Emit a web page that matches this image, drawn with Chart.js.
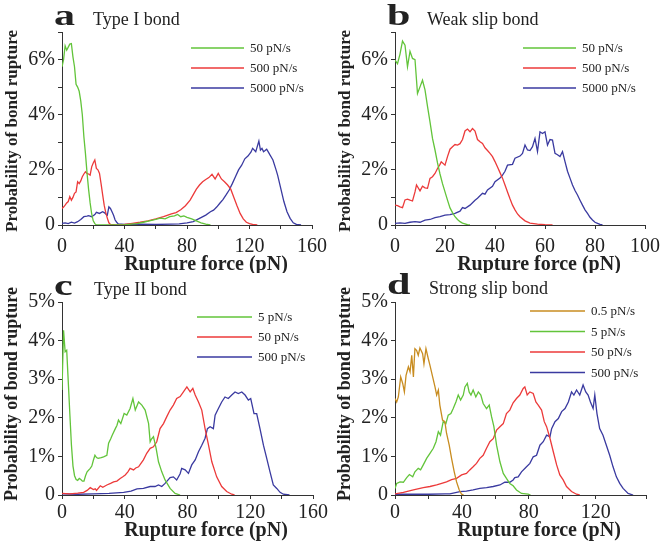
<!DOCTYPE html>
<html>
<head>
<meta charset="utf-8">
<script src="https://cdn.jsdelivr.net/npm/chart.js@4.4.0/dist/chart.umd.min.js"></script>
<style>
  body { margin: 0; background: #fff; }
  #wrap { position: relative; width: 666px; height: 547px; }
  #wrap canvas { position: absolute; }
</style>
</head>
<body>
<div id="wrap">
  <canvas id="pa" width="333" height="273" style="left:0;top:0"></canvas>
  <canvas id="pb" width="333" height="273" style="left:333px;top:0"></canvas>
  <canvas id="pc" width="333" height="274" style="left:0;top:273px"></canvas>
  <canvas id="pd" width="333" height="274" style="left:333px;top:273px"></canvas>
</div>
<script>
// rupture force (pN), probability (%) pairs

// a  Type I bond
const a50 = [[0,5.74],[1,6.0],[2,6.5],[3,6.34],[4,6.45],[5,6.56],[6,6.58],[7,6.1],[8,5.74],[9,5.1],[10,5.0],[11,4.85],[12,4.5],[13,4.0],[14,3.2],[15,2.6],[16,1.9],[17,1.3],[18,0.8],[19,0.4],[20,0.15],[21,0.05],[22,0],[40,0],[44,0.03],[48,0.05],[52,0.1],[56,0.15],[60,0.2],[63,0.25],[66,0.22],[69,0.3],[72,0.33],[74,0.38],[76,0.3],[78,0.33],[80,0.28],[83,0.22],[86,0.15],[89,0.08],[92,0.03],[95,0]];
const a500 = [[0,0.6],[1,0.65],[2,0.72],[3,0.8],[4,0.85],[5,1.03],[6,0.9],[7,1.0],[8,1.15],[9,1.2],[10,1.57],[11,1.5],[12,1.6],[13,1.75],[14,1.85],[15,1.93],[16,1.87],[17,1.85],[18,1.81],[19,2.11],[20,2.25],[21,2.36],[22,2.05],[23,2.0],[24,1.87],[25,1.5],[26,1.1],[27,0.72],[28,0.45],[29,0.25],[30,0.08],[31,0.02],[35,0],[40,0.02],[45,0.06],[50,0.1],[55,0.15],[60,0.22],[65,0.3],[70,0.4],[73,0.45],[76,0.55],[79,0.7],[82,0.9],[84,1.1],[86,1.3],[88,1.45],[90,1.57],[92,1.65],[94,1.72],[96,1.84],[98,1.67],[100,1.87],[102,1.67],[104,1.57],[106,1.45],[108,1.3],[110,1.0],[112,0.7],[114,0.42],[116,0.22],[118,0.1],[120,0.05],[122,0.02],[125,0]];
const a5000 = [[0,0.06],[2,0.08],[4,0.05],[6,0.1],[8,0.07],[10,0.12],[12,0.2],[14,0.3],[16,0.32],[17,0.34],[19,0.3],[21,0.38],[22,0.46],[24,0.42],[26,0.48],[27,0.45],[28,0.4],[29,0.36],[30,0.66],[31,0.6],[32,0.48],[33,0.35],[34,0.18],[35,0.1],[36,0.04],[40,0.02],[50,0.03],[60,0.02],[70,0.03],[75,0.04],[80,0.08],[84,0.12],[88,0.24],[92,0.36],[95,0.48],[97,0.54],[99,0.65],[101,0.79],[103,0.92],[105,1.09],[107,1.27],[109,1.5],[111,1.75],[113,2.0],[115,2.17],[117,2.4],[119,2.5],[121,2.65],[122,2.78],[124,2.66],[125,2.85],[126,3.04],[127,2.72],[128,2.78],[129,2.66],[130,2.7],[131,2.75],[132,2.65],[133,2.55],[135,2.36],[137,2.0],[138,1.81],[140,1.33],[142,0.85],[144,0.48],[146,0.24],[148,0.08],[150,0.02],[153,0]];

// b  Weak slip bond
const b50 = [[0,5.98],[1,5.85],[2,6.2],[3,6.67],[4,6.52],[5,5.74],[6,6.3],[7,6.04],[8,6.0],[9,4.77],[10,5.01],[11,5.25],[12,4.9],[13,4.3],[14,3.74],[15,3.14],[16,2.72],[17,2.25],[18,1.85],[19,1.5],[20,1.2],[21,0.9],[22,0.62],[23,0.45],[24,0.3],[25,0.2],[26,0.12],[27,0.07],[28,0.04],[29,0.01],[30,0]];
const b500 = [[0,0.72],[1,0.7],[2,0.66],[3,0.63],[4,0.91],[5,0.94],[6,0.9],[7,0.87],[8,1.2],[8.6,1.45],[10,1.24],[11,1.41],[12,1.35],[13,1.33],[14,1.69],[15,1.75],[16,1.87],[17,2.05],[18,2.2],[18.5,2.29],[20,2.17],[21,2.48],[22,2.75],[23,2.84],[24,2.92],[25,2.9],[26,2.95],[27,3.1],[28,3.41],[29,3.48],[30,3.38],[31,3.5],[32,3.41],[33,3.1],[34,3.02],[35,2.96],[36,2.8],[37,2.7],[38,2.6],[39,2.48],[40,2.3],[41,2.1],[42,1.9],[43,1.7],[44,1.45],[45,1.2],[46,0.95],[47,0.72],[48,0.55],[49,0.4],[50,0.3],[52,0.15],[54,0.07],[57,0.03],[60,0.01],[63,0]];
const b5000 = [[0,0.06],[2,0.08],[4,0.06],[6,0.1],[8,0.12],[10,0.1],[12,0.18],[14,0.2],[16,0.27],[18,0.3],[20,0.36],[22,0.38],[24,0.42],[26,0.5],[27,0.63],[28,0.6],[30,0.72],[32,0.9],[33,0.97],[35,1.15],[36,1.12],[37,1.27],[39,1.4],[40,1.57],[42,1.7],[43,1.81],[44,1.95],[45,2.17],[47,2.2],[48,2.42],[50,2.5],[51,2.6],[52,2.9],[53,2.72],[54,2.7],[55,2.84],[56,3.14],[57,2.66],[58,3.38],[59,3.32],[60,3.38],[61,2.9],[62,3.1],[63,3.08],[64,2.6],[65,2.55],[66,2.48],[67,2.66],[68,2.3],[69,1.95],[70,1.7],[71,1.45],[72,1.25],[73,1.09],[74,0.9],[75,0.72],[76,0.55],[77,0.42],[78,0.28],[79,0.18],[80,0.1],[81,0.06],[82,0.02],[83,0]];

// c  Type II bond
const c5 = [[0,2.72],[1,4.27],[2,3.71],[3,3.75],[4,2.93],[5,2.1],[6,1.3],[7,0.75],[8,0.5],[9,0.4],[10,0.38],[11,0.43],[12,0.4],[13,0.36],[14,0.36],[15,0.5],[16,0.6],[18,0.69],[19,0.75],[20,0.9],[21,1.03],[22,0.97],[23,0.95],[25,0.97],[26.5,0.99],[28.6,1.03],[29.7,1.34],[31,1.45],[32,1.55],[34,1.72],[35,1.8],[36,1.94],[37.5,1.85],[39.6,2.11],[41.3,2.07],[43.4,2.24],[45.2,2.5],[46.7,2.2],[48.8,2.41],[50.9,2.33],[53,2.2],[55.2,1.85],[56.2,1.38],[57,1.45],[58.3,1.51],[60,1.21],[61.5,0.86],[63.6,0.6],[65.7,0.39],[68.9,0.17],[72.1,0.04],[75.3,0]];
const c50 = [[0,0.04],[5,0.03],[10,0.05],[13.8,0.07],[16,0.12],[18,0.19],[20,0.14],[21.2,0.16],[22,0.12],[24.4,0.24],[26,0.2],[28.6,0.26],[31,0.3],[32.9,0.34],[35,0.36],[37.1,0.43],[39,0.48],[40.3,0.52],[42,0.6],[43.4,0.69],[45.6,0.65],[47,0.7],[48.8,0.73],[50,0.8],[51.9,0.91],[54,1.08],[56.2,1.21],[58.3,1.25],[60.4,1.38],[62.5,1.72],[64.7,1.85],[66.8,2.03],[68.9,2.2],[71,2.33],[73.1,2.5],[75.3,2.55],[77.4,2.67],[79.6,2.8],[81.7,2.67],[83.4,2.76],[84.9,2.59],[87,2.41],[89.1,2.2],[91.2,1.72],[93.4,1.29],[95.5,0.86],[98.6,0.47],[101.8,0.22],[105,0.09],[108.2,0.02],[110,0]];
const c500 = [[0,0.03],[10,0.02],[20,0.03],[30,0.04],[39.3,0.07],[44,0.1],[47.8,0.16],[51.9,0.17],[56.2,0.22],[59.3,0.22],[61.5,0.26],[63.6,0.22],[65.7,0.3],[68.9,0.45],[71,0.47],[73.1,0.39],[75.3,0.55],[76.3,0.69],[78.5,0.65],[80.6,0.56],[82.7,0.78],[84.9,0.91],[87,1.12],[89.1,1.29],[91.2,1.47],[92.7,1.72],[94.4,1.77],[96.5,1.72],[97.6,2.07],[99.7,2.24],[101.8,2.41],[103.9,2.54],[106,2.5],[108.2,2.59],[110.3,2.67],[112.4,2.63],[114.6,2.67],[116.7,2.59],[118.8,2.46],[120.3,2.5],[122.4,2.11],[124.1,2.11],[126.2,1.72],[128.4,1.29],[130.5,0.95],[132.6,0.6],[134.7,0.26],[136.9,0.17],[139,0.07],[141.1,0.02],[145,0]];

// d  Strong slip bond
const d05 = [[0,2.5],[1,2.41],[2,2.54],[3.4,3.06],[4.6,2.89],[5.6,2.67],[6.6,3.1],[8,3.32],[9,3.19],[10,3.62],[11,3.06],[11.9,3.79],[12.9,3.75],[13.9,3.62],[14.9,3.81],[16.5,3.66],[17.3,3.4],[18.5,3.79],[19.9,3.53],[20.9,3.36],[22.5,3.06],[23.9,2.8],[24.9,2.59],[25.9,2.72],[26.8,2.33],[28.4,1.94],[29.8,1.9],[30.8,1.6],[32.4,1.29],[33.8,0.95],[35.4,0.6],[36.8,0.34],[38.4,0.13],[39.8,0.02],[41,0]];
const d5 = [[0,0.17],[1,0.3],[3,0.34],[5,0.33],[7,0.45],[8.6,0.53],[10.6,0.47],[11.9,0.6],[13.9,0.69],[15.3,0.65],[16.9,0.78],[18.9,0.95],[20.9,1.08],[22.9,1.21],[24.5,1.38],[25.9,1.64],[27.2,1.55],[28.8,1.9],[30.4,1.85],[31.8,2.07],[33.4,2.11],[34.8,2.24],[36.4,2.41],[37.8,2.59],[39.2,2.46],[40.8,2.59],[41.8,2.8],[43.2,2.89],[44.3,2.67],[45.4,2.59],[46.7,2.72],[48.3,2.54],[49.8,2.67],[51.3,2.59],[52.7,2.37],[54.7,2.24],[56.3,2.33],[57.7,2.03],[59.1,1.77],[60.7,1.29],[62.7,0.86],[64.7,0.56],[66.6,0.43],[68.6,0.3],[70.6,0.24],[72.6,0.13],[75.6,0.04],[79.6,0.02],[81,0]];
const d50 = [[0,0.03],[5,0.07],[11,0.13],[16.9,0.19],[20.9,0.22],[24.9,0.26],[27.9,0.3],[30.8,0.34],[33.8,0.4],[36.8,0.43],[39.8,0.52],[42.7,0.56],[44.7,0.65],[46.7,0.73],[48.7,0.82],[50.7,0.95],[52.7,1.03],[54.7,1.21],[56.7,1.38],[58.7,1.46],[60.7,1.68],[62.7,1.77],[64.7,1.85],[66.6,2.11],[68.6,2.2],[70.6,2.39],[72.6,2.5],[74.6,2.59],[76.6,2.76],[77.6,2.8],[79,2.59],[80.6,2.67],[82.6,2.63],[84.2,2.41],[85.6,2.33],[87.6,2.2],[89.2,1.9],[90.6,1.77],[92.6,1.47],[94.6,1.12],[96.6,0.78],[98.5,0.52],[100.5,0.39],[102.5,0.22],[105.5,0.09],[108.5,0.02],[110.4,0]];
const d500 = [[0,0.02],[10,0.02],[20,0.02],[30,0.03],[32.8,0.03],[38.8,0.09],[42.7,0.1],[46.7,0.13],[50.7,0.17],[54.7,0.19],[58.7,0.22],[62.7,0.26],[65.6,0.33],[68.6,0.33],[70.6,0.39],[71.6,0.45],[73.6,0.47],[75.6,0.6],[78.6,0.73],[80.6,0.82],[82.6,0.99],[84.6,1.03],[86.6,1.29],[88.6,1.38],[90.6,1.55],[92.6,1.51],[93.6,1.72],[95.6,1.9],[97.6,1.98],[99.6,2.16],[101.6,2.24],[103.6,2.41],[105.5,2.67],[106.9,2.59],[108.5,2.72],[110.4,2.59],[112.4,2.85],[114,2.67],[115.4,2.59],[116.8,2.41],[118.4,2.24],[119.4,2.59],[120.7,2.11],[122.3,1.72],[124.3,1.55],[126.3,1.29],[128.3,1.03],[130.3,0.73],[132.3,0.47],[134.3,0.3],[136.3,0.17],[139.3,0.04],[142.3,0]];

const GREEN = 'rgb(98,196,58)';
const RED = 'rgb(236,58,58)';
const BLUE = 'rgb(58,58,160)';
const GOLD = 'rgb(200,140,32)';
const INK = '#222';
const SERIF = '"Liberation Serif", "Times New Roman", serif';

const panels = [
  { id: 'pa', letter: 'a', name: 'Type I bond', xMax: 160, xStep: 20, xLabelEvery: 40, yMax: 7, yLabelEvery: 2,
    top: 32, axisY: 225, titleBase: 25, nameX: 93, xPad: 6, xTitleBase: 270, yTitleMid: 131, yTitleSize: 17,
    series: [['50 pN/s', a50, GREEN], ['500 pN/s', a500, RED], ['5000 pN/s', a5000, BLUE]],
    legend: { x1: 191, x2: 244, y0: 48, dy: 20 } },
  { id: 'pb', letter: 'b', name: 'Weak slip bond', xMax: 100, xStep: 20, xLabelEvery: 20, yMax: 7, yLabelEvery: 2,
    top: 32, axisY: 225, titleBase: 25, nameX: 94, xPad: 6, xTitleBase: 270, yTitleMid: 131, yTitleSize: 17,
    series: [['50 pN/s', b50, GREEN], ['500 pN/s', b500, RED], ['5000 pN/s', b5000, BLUE]],
    legend: { x1: 190, x2: 243, y0: 48, dy: 20 } },
  { id: 'pc', letter: 'c', name: 'Type II bond', xMax: 160, xStep: 20, xLabelEvery: 40, yMax: 5, yLabelEvery: 1,
    top: 29, axisY: 222, titleBase: 22, nameX: 94, xPad: 2, xTitleBase: 263, yTitleMid: 121, yTitleSize: 18,
    series: [['5 pN/s', c5, GREEN], ['50 pN/s', c50, RED], ['500 pN/s', c500, BLUE]],
    legend: { x1: 197, x2: 252, y0: 44, dy: 20 } },
  { id: 'pd', letter: 'd', name: 'Strong slip bond', xMax: 150, xStep: 20, xLabelEvery: 40, yMax: 5, yLabelEvery: 1,
    top: 29, axisY: 222, titleBase: 21, nameX: 96, xPad: 2, xTitleBase: 263, yTitleMid: 121, yTitleSize: 18,
    series: [['0.5 pN/s', d05, GOLD], ['5 pN/s', d5, GREEN], ['50 pN/s', d50, RED], ['500 pN/s', d500, BLUE]],
    legend: { x1: 197, x2: 252, y0: 38, dy: 20.5 } }
];

// draws panel letter, panel name, axis titles and the in-plot legend
const decor = {
  id: 'decor',
  afterDraw(chart, args, o) {
    const ctx = chart.ctx;
    ctx.save();
    ctx.fillStyle = INK;
    ctx.textBaseline = 'alphabetic';
    ctx.textAlign = 'left';

    // panel letter is wide in the original, stretch it a bit
    ctx.save();
    ctx.translate(54, o.titleBase);
    ctx.scale(1.4, 1);
    ctx.font = 'bold 30px ' + SERIF;
    ctx.fillText(o.letter, 0, 0);
    ctx.restore();

    ctx.font = '18px ' + SERIF;
    ctx.fillText(o.name, o.nameX, o.titleBase);

    ctx.font = 'bold 20px ' + SERIF;
    ctx.textAlign = 'center';
    ctx.fillText('Rupture force (pN)', 206, o.xTitleBase);

    ctx.save();
    ctx.translate(17, o.yTitleMid);
    ctx.rotate(-Math.PI / 2);
    ctx.font = 'bold ' + o.yTitleSize + 'px ' + SERIF;
    ctx.fillText('Probability of bond rupture', 0, 0);
    ctx.restore();

    ctx.font = '13px ' + SERIF;
    ctx.textAlign = 'left';
    ctx.textBaseline = 'middle';
    chart.data.datasets.forEach((ds, i) => {
      const y = o.legend.y0 + i * o.legend.dy;
      ctx.strokeStyle = ds.borderColor;
      ctx.lineWidth = 1.3;
      ctx.beginPath();
      ctx.moveTo(o.legend.x1, y);
      ctx.lineTo(o.legend.x2, y);
      ctx.stroke();
      ctx.fillText(ds.label, o.legend.x2 + 6, y + 1);
    });
    ctx.restore();
  }
};

panels.forEach(p => {
  const canvas = document.getElementById(p.id);
  new Chart(canvas, {
    type: 'line',
    data: {
      datasets: p.series.map(([label, pts, color]) => ({
        label: label,
        data: pts.map(([x, y]) => ({ x: x, y: y })),
        borderColor: color,
        borderWidth: 1.3,
        pointRadius: 0,
        tension: 0,
        fill: false
      }))
    },
    options: {
      responsive: false,
      animation: false,
      events: [],
      layout: { padding: { top: p.top, right: 20, left: 0, bottom: 0 } },
      plugins: {
        legend: { display: false },
        title: { display: false },
        tooltip: { enabled: false },
        decor: p
      },
      scales: {
        x: {
          type: 'linear',
          min: 0,
          max: p.xMax,
          afterFit: s => { s.height = canvas.height - p.axisY; },
          ticks: {
            stepSize: p.xStep,
            autoSkip: false,
            maxRotation: 0,
            padding: p.xPad,
            color: INK,
            font: { family: SERIF, size: 20 },
            callback: v => (v % p.xLabelEvery === 0 ? String(v) : '')
          },
          grid: { drawOnChartArea: false, drawTicks: true, tickLength: 4, color: '#333' },
          border: { color: '#333', width: 1 }
        },
        y: {
          min: 0,
          max: p.yMax,
          afterFit: s => { s.width = 62; },
          ticks: {
            stepSize: 1,
            padding: 3,
            color: INK,
            font: { family: SERIF, size: 20 },
            callback: v => (v === 0 ? '0' : (v % p.yLabelEvery === 0 ? v + '%' : ''))
          },
          grid: { drawOnChartArea: false, drawTicks: true, tickLength: 4, color: '#333' },
          border: { color: '#333', width: 1 }
        }
      }
    },
    plugins: [decor]
  });
});
</script>
</body>
</html>
